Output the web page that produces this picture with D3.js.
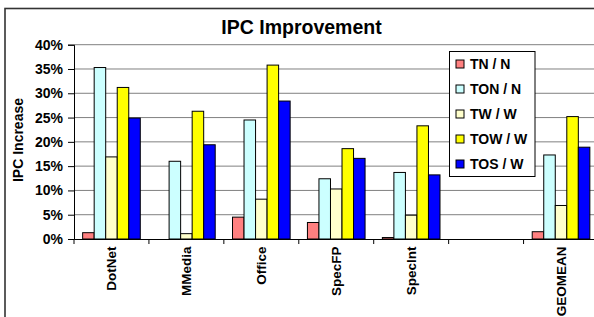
<!DOCTYPE html>
<html>
<head>
<meta charset="utf-8">
<script src="https://cdn.jsdelivr.net/npm/d3@7"></script>
<style>
body{margin:0;background:#fff;}
svg{display:block;font-family:Arial,"Liberation Sans",sans-serif;font-weight:bold;}
</style>
</head>
<body>
<svg id="chart" width="594" height="317"></svg>
<script>
const categories = ["DotNet","MMedia","Office","SpecFP","SpecInt","","GEOMEAN"];
const seriesNames = ["TN / N","TON / N","TW / W","TOW / W","TOS / W"];
const seriesColors = ["#FF8080","#CCFFFF","#FFFFCC","#FFFF00","#0000FF"];
const tnN   = [0.013, 0.000, 0.045, 0.034, 0.003, null, 0.015];
const tonN  = [0.353, 0.160, 0.245, 0.124, 0.137, null, 0.173];
const twW   = [0.169, 0.011, 0.082, 0.103, 0.049, null, 0.069];
const towW  = [0.312, 0.263, 0.358, 0.186, 0.233, null, 0.252];
const tosW  = [0.249, 0.194, 0.284, 0.166, 0.132, null, 0.189];
const yTicks = [0,0.05,0.10,0.15,0.20,0.25,0.30,0.35,0.40];
const seriesValues = [tnN, tonN, twW, towW, tosW];

const svg = d3.select("#chart");
// outer chart frame
svg.append("rect").attr("x",5).attr("y",8.5).attr("width",620).attr("height",330)
  .attr("fill","#fff").attr("stroke","#333").attr("stroke-width",1.6);

const x = d3.scaleBand().domain(categories).range([74, 598.5]).padding(0);
const bw = x.bandwidth();
const xs = d3.scaleBand().domain(seriesNames)
  .range([bw*0.75/6.5, bw - bw*0.75/6.5]).padding(0);
const y = d3.scaleLinear().domain([0,0.4]).range([239, 44.7]);

// gridlines
svg.append("g").selectAll("line").data(yTicks.filter(d=>d>0)).join("line")
  .attr("x1",74).attr("x2",600).attr("y1",d=>y(d)).attr("y2",d=>y(d))
  .attr("stroke","#808080").attr("stroke-width",1);

// bars
const gCat = svg.append("g").selectAll("g").data(categories).join("g")
  .attr("transform",d=>`translate(${x(d)},0)`);
gCat.each(function(c,ci){
  const g = d3.select(this);
  seriesNames.forEach((s,si)=>{
    const v = seriesValues[si][ci];
    if(v===null) return;
    g.append("rect")
      .attr("x", xs(s)).attr("width", xs.bandwidth())
      .attr("y", y(v)).attr("height", Math.max(0, y(0)-y(v)))
      .attr("fill", seriesColors[si]).attr("stroke","#000").attr("stroke-width",1);
  });
});

// y axis
const yAxis = d3.axisLeft(y).tickValues(yTicks).tickFormat(d3.format(".0%")).tickSize(6).tickPadding(5);
const ya = svg.append("g").attr("transform","translate(74,0)").call(yAxis);
ya.select(".domain").attr("stroke","#000");
ya.selectAll(".tick line").attr("stroke","#000");
ya.selectAll("text").attr("font-size",14).attr("font-weight","bold").attr("fill","#000")
  .attr("font-family",'Arial,"Liberation Sans",sans-serif');

// x axis
const xAxis = d3.axisBottom(x).tickValues([]).tickSizeOuter(0);
const xa = svg.append("g").attr("transform","translate(0,239)").call(xAxis);
xa.select(".domain").attr("stroke","#000");
xa.selectAll("line.cat").data(categories.concat(["end"])).join("line").attr("class","cat")
  .attr("x1",(d,i)=>74+i*bw).attr("x2",(d,i)=>74+i*bw).attr("y1",0).attr("y2",5).attr("stroke","#000");
xa.selectAll("text.lbl").data(categories).join("text").attr("class","lbl")
  .attr("transform",d=>`translate(${x(d)+bw/2},7.5) rotate(-90)`)
  .attr("text-anchor","end").attr("dy","0.35em")
  .attr("font-size",13.5).attr("fill","#000").text(d=>d);

// title
svg.append("text").attr("x",301.5).attr("y",34).attr("text-anchor","middle")
  .attr("font-size",19.5).attr("fill","#000").text("IPC Improvement");

// y title
svg.append("text").attr("transform","translate(18,140) rotate(-90)")
  .attr("text-anchor","middle").attr("dy","0.35em").attr("font-size",14).attr("fill","#000")
  .text("IPC Increase");

// legend
const lg = svg.append("g");
lg.append("rect").attr("x",449.5).attr("y",51.5).attr("width",85.5).attr("height",125)
  .attr("fill","#fff").attr("stroke","#000").attr("stroke-width",1);
const li = lg.selectAll("g").data(seriesNames).join("g")
  .attr("transform",(d,i)=>`translate(0,${64+i*25})`);
li.append("rect").attr("x",456).attr("y",-4).attr("width",8).attr("height",8)
  .attr("fill",(d,i)=>seriesColors[i]).attr("stroke","#000").attr("stroke-width",1);
li.append("text").attr("x",470).attr("dy","0.35em").attr("font-size",14).attr("fill","#000").text(d=>d);
</script>
</body>
</html>
